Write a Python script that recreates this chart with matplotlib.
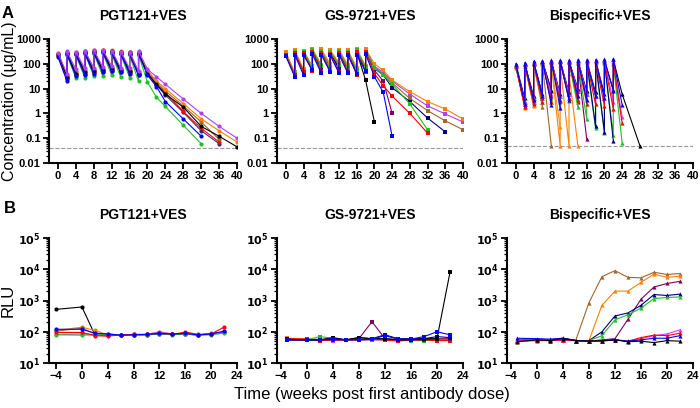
import numpy as np
import matplotlib
matplotlib.use("Agg")
import matplotlib.pyplot as plt
from matplotlib.ticker import LogLocator, FixedLocator, NullFormatter

plt.rcParams['font.family'] = ['Liberation Sans', 'DejaVu Sans']

# ---------------- Panel A : antibody concentration (ug/mL) ----------------
# each animal: peaks after dose (weeks 0,2,4..), troughs before next dose (weeks 2,4,..), tail after dosing
pgt_colors = ['#20c020', '#303070', '#ff0000', '#a0662a', '#ff8000', '#000000', '#0000ff', '#b040ff']
pgt_peaks = [
    [210, 230, 220, 250, 260, 270, 250, 240, 220, 230],
    [230, 260, 240, 280, 300, 310, 290, 270, 250, 260],
    [220, 270, 250, 290, 310, 320, 300, 280, 260, 270],
    [240, 290, 280, 320, 340, 350, 330, 300, 280, 290],
    [260, 300, 290, 340, 360, 370, 350, 320, 290, 300],
    [260, 280, 270, 300, 330, 340, 320, 300, 290, 280],
    [190, 250, 240, 270, 280, 290, 270, 260, 240, 250],
    [280, 320, 300, 330, 350, 360, 340, 310, 300, 330],
]
pgt_troughs = [
    [27, 27, 28, 32, 33, 35, 30, 28, 20],
    [25, 35, 38, 42, 48, 52, 45, 42, 35],
    [28, 38, 40, 45, 50, 55, 50, 45, 38],
    [32, 45, 50, 55, 60, 65, 55, 50, 42],
    [35, 50, 55, 60, 65, 70, 60, 55, 45],
    [30, 40, 45, 50, 55, 60, 55, 50, 40],
    [20, 32, 35, 40, 45, 50, 45, 40, 35],
    [40, 60, 65, 70, 75, 80, 70, 65, 50],
]
pgt_tail_weeks = [20, 22, 24, 28, 32, 36, 40]
pgt_tail = [
    [18, 4.5, 1.9, 0.33, 0.06],
    [40, 14, 5.5, 1.1, 0.2, 0.06],
    [45, 15, 7, 1.2, 0.25, 0.07],
    [50, 18, 8, 2.0, 0.45, 0.09],
    [55, 20, 10, 2.5, 0.6, 0.2, 0.07],
    [40, 15, 6, 1.8, 0.3, 0.12, 0.045],
    [35, 12, 3, 0.6, 0.12],
    [60, 30, 15, 3.8, 1.0, 0.3, 0.1],
]

gs_colors = ['#000000', '#800060', '#a0662a', '#000080', '#b040ff', '#ff8000', '#20c020', '#ff0000', '#0000ff']
gs_peaks = [
    [240, 270, 260, 300, 290, 280, 290, 270, 300],
    [230, 280, 270, 300, 300, 280, 300, 280, 320, 300],
    [250, 310, 300, 350, 330, 300, 320, 310, 350, 350],
    [240, 300, 290, 340, 320, 290, 310, 300, 340, 340],
    [260, 330, 310, 370, 350, 320, 340, 330, 380, 370],
    [290, 350, 330, 400, 380, 350, 360, 350, 400, 400],
    [230, 290, 310, 360, 330, 300, 330, 300, 350, 300],
    [220, 280, 270, 300, 280, 260, 280, 270, 300, 300],
    [200, 230, 220, 240, 230, 220, 230, 220, 230, 250],
]
gs_troughs = [
    [36, 48, 55, 60, 60, 65, 55, 45, 22],
    [38, 50, 60, 65, 65, 70, 60, 50, 60],
    [38, 52, 65, 75, 75, 95, 75, 55, 65],
    [35, 50, 60, 70, 70, 60, 70, 50, 60],
    [40, 55, 70, 80, 80, 100, 80, 60, 70],
    [45, 60, 80, 90, 100, 110, 90, 70, 80],
    [38, 50, 65, 80, 60, 90, 65, 55, 75],
    [35, 48, 50, 50, 45, 45, 45, 35, 45],
    [30, 35, 55, 42, 48, 42, 42, 40, 50],
]
gs_tail_weeks = [20, 22, 24, 28, 32, 36, 40]
gs_tail = [
    [0.45],
    [55, 20, 1.0],
    [70, 40, 17, 4, 1.3, 0.5, 0.22],
    [65, 35, 11, 3.0, 0.65, 0.18],
    [80, 45, 20, 6, 2.0, 0.95, 0.45],
    [100, 55, 22, 7.5, 3.0, 1.5, 0.6],
    [70, 35, 15, 2.4, 0.22],
    [40, 13, 5, 1.0, 0.16],
    [30, 7, 0.12],
]

bis_colors = ['#000000', '#a0662a', '#ff8000', '#f09020', '#800060', '#20c020', '#000080', '#d040ff', '#ff0000', '#0000ff']
bis_peaks = [
    [95, 105, 120, 125, 130, 130, 125, 130, 130, 135, 135, 150],
    [75, 85, 95, 100],
    [80, 90, 100, 110, 100, 90, 40],
    [85, 95, 100, 110, 100],
    [80, 95, 110, 120, 120, 130, 120, 110],
    [70, 85, 100, 120, 120, 130, 120, 110, 100, 100, 110, 100],
    [90, 100, 110, 130, 130, 130, 130, 140, 140, 140, 140],
    [90, 100, 110, 120, 130, 130, 130, 140, 140, 140, 140, 130],
    [85, 95, 110, 120, 120, 120, 120, 120, 120, 120, 120, 110],
    [100, 110, 125, 135, 140, 140, 140, 145, 140, 145, 150, 160],
]
bis_troughs = [
    [4, 5, 6, 9, 6, 7, 10, 8, 7, 6, 9, 6],
    [2.5, 2.2, 1.8, 0.05],
    [1.7, 2.0, 4, 3.5, 0.05, 0.05, 0.05],
    [1.8, 2.2, 3, 2.8, 0.28],
    [2, 3, 4, 5, 3.5, 4, 3, 0.09],
    [2.5, 3, 3, 4, 3, 3.2, 1.8, 0.6, 0.25, 0.16, 0.14, 0.065],
    [3, 4, 5, 8, 5, 6, 8, 6, 0.3, 0.17, 0.08],
    [3, 4, 5, 6, 5, 6, 8, 6, 5, 4, 3, 0.7],
    [1.8, 2.5, 3, 3, 3.2, 4, 3.5, 2.5, 2.3, 2, 1.5, 0.4],
    [2.5, 3.5, 5, 2.2, 1.6, 3.5, 5, 3.5, 5, 4, 8, 2.2],
]
bis_tail_weeks = [28]
bis_tail = [[0.05], [], [], [], [], [], [], [], [], []]

# ---------------- Panel B : RLU ----------------
pgt_rlu_weeks = [-4, 0, 2, 4, 6, 8, 10, 12, 14, 16, 18, 20, 22]
pgt_rlu_colors = ['#000000', '#ff8000', '#a0662a', '#b040ff', '#20c020', '#ff0000', '#0000ff']
pgt_rlu = [
    [520, 620, 80, 78, 78, 80, 80, 85, 82, 85, 78, 85, 95],
    [110, 140, 110, 80, 80, 82, 82, 90, 85, 88, 80, 85, 100],
    [105, 130, 85, 80, 78, 80, 80, 88, 82, 85, 80, 85, 100],
    [82, 85, 82, 85, 78, 82, 82, 100, 85, 85, 78, 88, 95],
    [80, 78, 80, 80, 80, 80, 80, 85, 80, 85, 78, 80, 90],
    [95, 95, 75, 72, 80, 82, 82, 90, 82, 98, 82, 85, 140],
    [120, 120, 90, 85, 78, 80, 82, 88, 85, 88, 80, 85, 105],
]

gs_rlu_weeks = [-3, 0, 2, 4, 6, 8, 10, 12, 14, 16, 18, 20, 22]
gs_rlu_colors = ['#ff8000', '#a0662a', '#b040ff', '#20c020', '#ff0000', '#800060', '#000080', '#000000', '#0000ff']
gs_rlu = [
    [62, 60, 55, 55, 55, 55, 58, 55, 52, 55, 55, 55, 55],
    [55, 55, 58, 55, 55, 55, 55, 55, 55, 55, 55, 55, 55],
    [55, 55, 55, 52, 55, 55, 55, 55, 52, 55, 55, 55, 55],
    [58, 55, 70, 62, 55, 58, 58, 60, 55, 52, 52, 55, 55],
    [60, 58, 52, 55, 55, 55, 58, 55, 50, 55, 55, 52, 52],
    [55, 55, 55, 55, 55, 60, 210, 60, 55, 55, 55, 60, 60],
    [58, 55, 55, 60, 55, 65, 60, 80, 60, 60, 60, 70, 65],
    [55, 55, 55, 65, 55, 65, 60, 60, 55, 55, 60, 60, 8000],
    [55, 55, 55, 60, 55, 55, 58, 75, 58, 58, 70, 100, 80],
]

bis_rlu_weeks = [-3, 0, 2, 4, 6, 8, 10, 12, 14, 16, 18, 20, 22]
bis_rlu_colors = ['#a0662a', '#ff8000', '#800060', '#000080', '#20c020', '#d040ff', '#ff0000', '#0000ff', '#000000']
bis_rlu = [
    [52, 55, 55, 60, 55, 850, 5800, 9000, 5500, 5300, 8000, 6800, 7300],
    [55, 55, 55, 55, 52, 52, 700, 2000, 2000, 3800, 7000, 5500, 6000],
    [52, 55, 55, 55, 52, 50, 55, 60, 250, 1100, 2700, 3500, 4100],
    [55, 58, 55, 62, 52, 52, 100, 320, 400, 700, 1550, 1450, 1600],
    [55, 55, 55, 58, 52, 52, 75, 240, 350, 570, 1150, 1250, 1300],
    [52, 55, 55, 55, 52, 52, 52, 55, 50, 60, 75, 85, 115],
    [50, 52, 52, 55, 52, 52, 52, 55, 50, 65, 78, 75, 90],
    [62, 60, 58, 62, 52, 50, 50, 55, 50, 55, 62, 62, 75],
    [48, 55, 52, 60, 52, 50, 52, 55, 48, 50, 45, 52, 50],
]

titles = ['PGT121+VES', 'GS-9721+VES', 'Bispecific+VES']
lloq = [0.04, 0.04, 0.05]


def pk_series(peaks, troughs, tail, tail_weeks):
    # dose weeks 0,2,4..: trough sampled before the dose, peak after it
    t, v = [], []
    for k in range(max(len(peaks), len(troughs) + 1)):
        if k > 0 and k - 1 < len(troughs):
            t.append(2 * k)
            v.append(troughs[k - 1])
        if k < len(peaks):
            t.append(2 * k)
            v.append(peaks[k])
    t += tail_weeks[:len(tail)]
    v += tail
    return t, v


W, H = 700, 408
fig = plt.figure(figsize=(W / 100, H / 100), dpi=100)


def px_axes(x0, y0, x1, y1):
    return fig.add_axes([x0 / W, 1 - y1 / H, (x1 - x0) / W, (y1 - y0) / H])


def style(ax):
    for s in ['top', 'right']:
        ax.spines[s].set_visible(False)
    for s in ['left', 'bottom']:
        ax.spines[s].set_linewidth(1.5)
    ax.tick_params(which='major', direction='out', width=1.3, length=4, labelsize=8, pad=2)
    ax.tick_params(which='minor', direction='out', width=0.9, length=2)
    for lab in ax.get_xticklabels() + ax.get_yticklabels():
        lab.set_fontweight('bold')


xs = [(49, 237), (277, 463), (507, 693)]
markers = ['o', 's', '^']

top_groups = [
    (pgt_colors, pgt_peaks, pgt_troughs, pgt_tail, pgt_tail_weeks),
    (gs_colors, gs_peaks, gs_troughs, gs_tail, gs_tail_weeks),
    (bis_colors, bis_peaks, bis_troughs, bis_tail, bis_tail_weeks),
]
for i, (cols, pk, tr, tl, tw) in enumerate(top_groups):
    ax = px_axes(xs[i][0], 39, xs[i][1], 163)
    for c, p, t_, tail in zip(cols, pk, tr, tl):
        t, v = pk_series(p, t_, tail, tw)
        ax.plot(t, v, color=c, marker=markers[i], ms=3, lw=0.8, mew=0)
    ax.axhline(lloq[i], color='#999999', ls='--', lw=0.8, zorder=0)
    ax.set_yscale('log')
    ax.set_ylim(0.01, 1000)
    ax.set_xlim(-2, 40)
    ax.set_xticks(range(0, 41, 4))
    ax.set_yticks([0.01, 0.1, 1, 10, 100, 1000])
    ax.set_yticklabels(['0.01', '0.1', '1', '10', '100', '1000'])
    ax.yaxis.set_minor_locator(LogLocator(subs=np.arange(2, 10)))
    ax.yaxis.set_minor_formatter(NullFormatter())
    ax.set_title(titles[i], fontsize=10, fontweight='bold', pad=14)
    style(ax)
    if i == 0:
        ax.set_ylabel('Concentration (µg/mL)', fontsize=11.5)
        ax.yaxis.set_label_coords(-0.17, 0.5)

bottom_groups = [
    (pgt_rlu_colors, pgt_rlu_weeks, pgt_rlu),
    (gs_rlu_colors, gs_rlu_weeks, gs_rlu),
    (bis_rlu_colors, bis_rlu_weeks, bis_rlu),
]
for i, (cols, wk, vals) in enumerate(bottom_groups):
    ax = px_axes(xs[i][0], 238, xs[i][1], 363)
    for c, v in zip(cols, vals):
        ax.plot(wk, v, color=c, marker=markers[i], ms=3, lw=0.8, mew=0)
    ax.set_yscale('log')
    ax.set_ylim(10, 1e5)
    ax.set_xlim(-5.1 if i == 0 else -4.6, 24)
    ax.set_xticks(range(-4, 25, 4))
    ax.yaxis.set_major_locator(FixedLocator([10, 100, 1000, 1e4, 1e5]))
    ax.set_yticklabels([r'$\mathbf{10^{%d}}$' % k for k in range(1, 6)])
    ax.yaxis.set_minor_locator(LogLocator(subs=np.arange(2, 10)))
    ax.yaxis.set_minor_formatter(NullFormatter())
    ax.set_title(titles[i], fontsize=10, fontweight='bold', pad=14)
    style(ax)
    if i == 0:
        ax.set_ylabel('RLU', fontsize=12)
        ax.yaxis.set_label_coords(-0.18, 0.5)

fig.text(2 / W, 1 - 14 / H, 'A', fontsize=12, fontweight='bold', va='center')
fig.text(4 / W, 1 - 209 / H, 'B', fontsize=12, fontweight='bold', va='center')
fig.text(372 / W, 1 - 395 / H, 'Time (weeks post first antibody dose)', fontsize=12,
         ha='center', va='center')

fig.savefig('out.png', dpi=100)
